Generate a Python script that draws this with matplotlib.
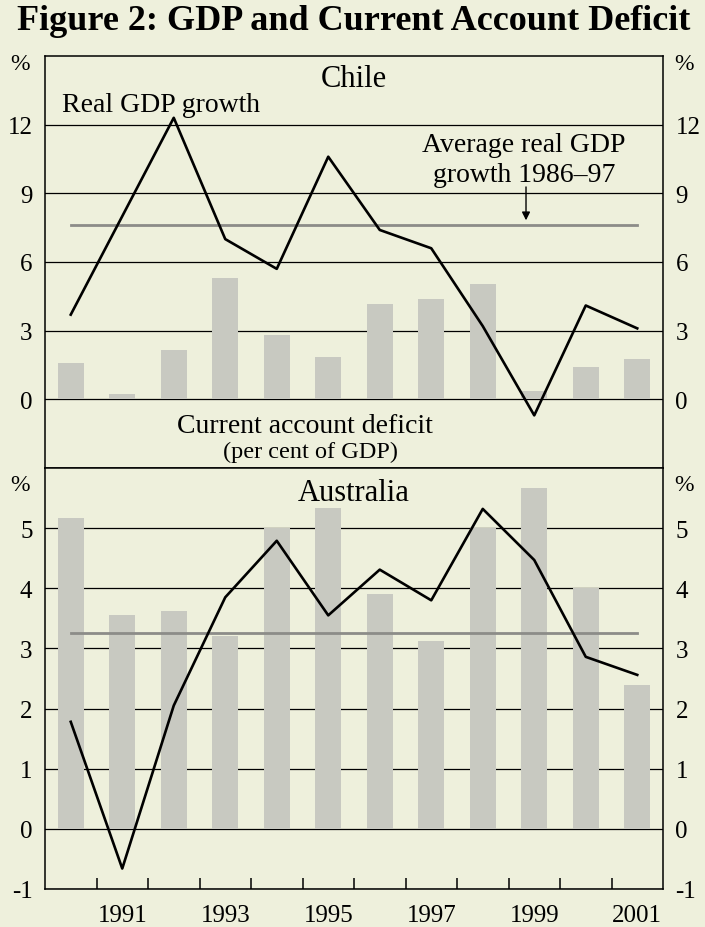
import matplotlib.pyplot as plt
import numpy as np

plt.rcParams['font.family'] = ['Liberation Serif', 'DejaVu Serif']

years = list(range(1990, 2002))
chile_gdp = [3.7, 8.0, 12.3, 7.0, 5.7, 10.6, 7.4, 6.6, 3.2, -0.7, 4.1, 3.1]
chile_cad = [1.6, 0.25, 2.15, 5.3, 2.8, 1.85, 4.15, 4.4, 5.05, 0.35, 1.4, 1.75]
chile_avg = 7.6
aus_gdp = [1.78, -0.66, 2.05, 3.85, 4.79, 3.55, 4.31, 3.8, 5.32, 4.47, 2.86, 2.56]
aus_cad = [5.17, 3.55, 3.63, 3.21, 5.01, 5.33, 3.9, 3.12, 5.0, 5.67, 4.0, 2.4]
aus_avg = 3.25
year_labels = [1991, 1993, 1995, 1997, 1999, 2001]

bg = '#eef0dc'
bar_col = '#c8c9c1'
avg_col = '#8c8c88'

fig = plt.figure(figsize=(7.05, 9.28), dpi=100, facecolor=bg)

W = 705.0
H = 928.0
left = 45 / W
width = (663 - 45) / W
top1 = 1 - 57 / H
mid = 1 - 469 / H
bot2 = 1 - 890 / H

ax1 = fig.add_axes([left, mid, width, top1 - mid])
ax2 = fig.add_axes([left, bot2, width, mid - bot2])


def panel(ax, gdp, cad, avg, ylim, yticks):
    ax.set_facecolor(bg)
    for yv in yticks:
        ax.axhline(yv, color='black', lw=0.9, zorder=1)
    ax.bar(years, cad, width=0.5, color=bar_col, zorder=2)
    ax.plot([years[0], years[-1]], [avg, avg], color=avg_col, lw=2.0, zorder=3)
    ax.plot(years, gdp, color='black', lw=1.9, zorder=4)
    ax.set_xlim(years[0] - 0.5, years[-1] + 0.5)
    ax.set_ylim(*ylim)
    ax.set_yticks(yticks)
    ax.set_yticklabels([str(v) for v in yticks])
    ax.tick_params(axis='y', length=0, labelsize=18, left=False, right=False,
                   labelleft=True, labelright=True, pad=9)
    for s in ax.spines.values():
        s.set_linewidth(1.1)


panel(ax1, chile_gdp, chile_cad, chile_avg, (-3, 15), [0, 3, 6, 9, 12])
panel(ax2, aus_gdp, aus_cad, aus_avg, (-1, 6), [-1, 0, 1, 2, 3, 4, 5])

ax1.set_xticks([])
ax2.set_xticks(year_labels)
ax2.set_xticklabels([str(y) for y in year_labels])
ax2.set_xticks(np.arange(years[0] + 0.5, years[-1]), minor=True)
ax2.tick_params(axis='x', which='major', length=0, labelsize=18, pad=11)
ax2.tick_params(axis='x', which='minor', direction='in', length=8, width=1.1)

fig.text(354 / W, 1 - 21 / H, 'Figure 2: GDP and Current Account Deficit',
         ha='center', va='center', fontsize=26, fontweight='bold')

ax1.text(0.5, 0.927, 'Chile', transform=ax1.transAxes, ha='center',
         va='baseline', fontsize=22)
ax1.text(0.0275, 0.8665, 'Real GDP growth', transform=ax1.transAxes,
         ha='left', va='baseline', fontsize=20)
ax1.text(0.775, 0.769, 'Average real GDP', transform=ax1.transAxes,
         ha='center', va='baseline', fontsize=20)
ax1.text(0.775, 0.697, 'growth 1986\u201397', transform=ax1.transAxes,
         ha='center', va='baseline', fontsize=20)
ax1.annotate('', xy=(1998.84, chile_avg + 0.1), xytext=(1998.84, 9.4),
             arrowprops=dict(arrowstyle='-|>', color='black', lw=1.0,
                             mutation_scale=12))
ax1.text(0.42, 0.087, 'Current account deficit', transform=ax1.transAxes,
         ha='center', va='baseline', fontsize=20)
ax1.text(0.43, 0.027, '(per cent of GDP)', transform=ax1.transAxes,
         ha='center', va='baseline', fontsize=17.5)

ax2.text(0.5, 0.924, 'Australia', transform=ax2.transAxes, ha='center',
         va='baseline', fontsize=22)

for yy in [64, 486]:
    fig.text(20 / W, 1 - yy / H, '%', ha='center', va='center', fontsize=17)
    fig.text(684 / W, 1 - yy / H, '%', ha='center', va='center', fontsize=17)

fig.savefig('out.png', dpi=100, facecolor=bg)
